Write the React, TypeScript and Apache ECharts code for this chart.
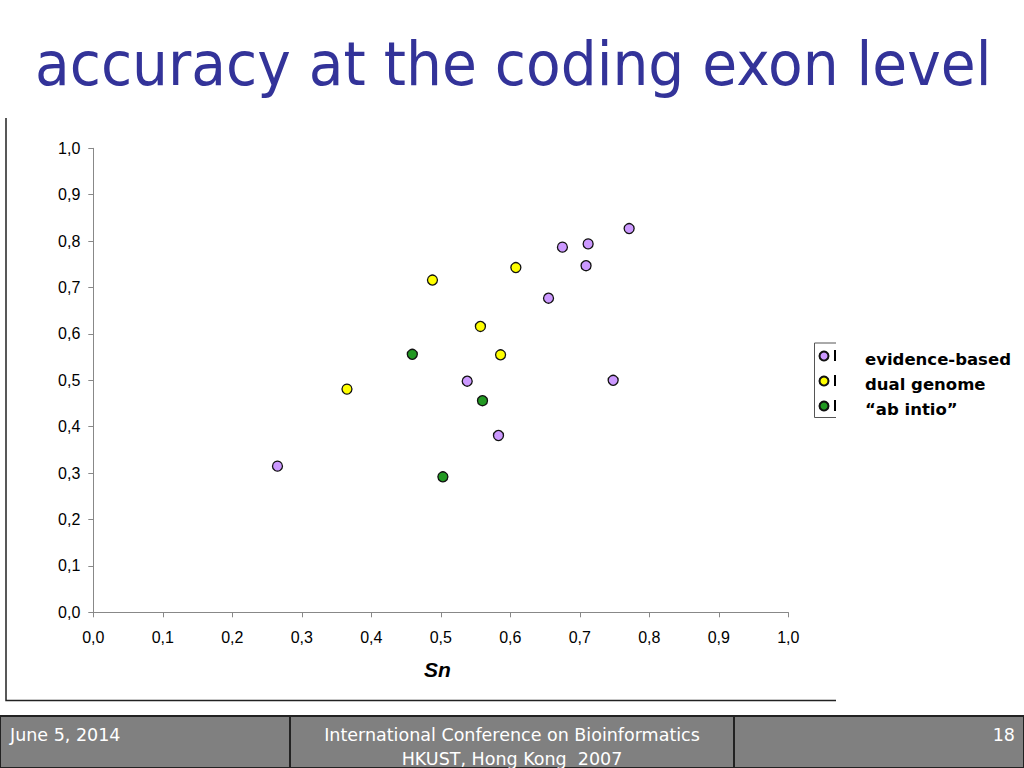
import React, { useEffect, useRef } from "react";
import * as echarts from "echarts";

const seriesNames = ["evidence-based", "dual genome", "\u201cab intio\u201d"];
const seriesColors = ["#CC99FF", "#FFFF00", "#229922"];

const evidenceSn = [0.265, 0.538, 0.583, 0.655, 0.675, 0.712, 0.709, 0.771, 0.748];
const evidenceSp = [0.315, 0.498, 0.381, 0.677, 0.787, 0.794, 0.747, 0.827, 0.5];
const dualSn = [0.365, 0.488, 0.557, 0.586, 0.608];
const dualSp = [0.481, 0.716, 0.616, 0.555, 0.743];
const abInitioSn = [0.459, 0.56, 0.503];
const abInitioSp = [0.556, 0.456, 0.292];

const axisTicks = [0, 0.1, 0.2, 0.3, 0.4, 0.5, 0.6, 0.7, 0.8, 0.9, 1.0];

const titleText = "accuracy at the coding exon level";
const footerLeft = "June 5, 2014";
const footerCenter1 = "International Conference on Bioinformatics";
const footerCenter2 = "HKUST, Hong Kong  2007";
const footerRight = "18";

function pairs(xs: number[], ys: number[]) {
  return xs.map((x, i) => [x, ys[i]]);
}

export default function App() {
  const ref = useRef<HTMLDivElement>(null);
  useEffect(() => {
    if (!ref.current) return;
    const chart = echarts.init(ref.current, null, { renderer: "svg" });
    const fmt = (v: number) => v.toFixed(1).replace(".", ",");
    const axisCommon = {
      type: "value" as const,
      min: axisTicks[0],
      max: axisTicks[axisTicks.length - 1],
      interval: 0.1,
      splitLine: { show: false },
      axisLine: { show: true, lineStyle: { color: "#888888", width: 1 } },
      axisTick: { show: true, length: 5, inside: false, lineStyle: { color: "#888888" } },
      axisLabel: {
        formatter: fmt,
        fontFamily: "Liberation Sans",
        fontSize: 16,
        color: "#000000",
      },
    };
    const data = [pairs(evidenceSn, evidenceSp), pairs(dualSn, dualSp), pairs(abInitioSn, abInitioSp)];
    const footerFont = "17.5px 'DejaVu Sans'";
    const graphics: any[] = [
      {
        type: "text",
        x: 35,
        y: 34,
        scaleX: 0.945,
        style: {
          text: titleText,
          fill: "#333399",
          font: "60px 'DejaVu Sans'",
          verticalAlign: "top",
        },
      },
      {
        type: "polyline",
        shape: { points: [[6, 118], [6, 700.5], [836, 700.5]] },
        style: { stroke: "#222222", lineWidth: 1.5, fill: "none" },
      },
      {
        type: "polyline",
        shape: { points: [[836, 343], [814.5, 343], [814.5, 417.5], [836, 417.5]] },
        style: { stroke: "#555555", lineWidth: 1, fill: "none" },
      },
    ];
    [355, 380, 405].forEach((y, i) => {
      graphics.push({
        type: "rect",
        shape: { x: 834, y: y - 5, width: 2, height: 11 },
        style: { fill: "#000000" },
      });
      graphics.push({
        type: "text",
        x: 865,
        y: y + 4,
        style: {
          text: seriesNames[i],
          fill: "#000000",
          font: "bold 16.5px 'DejaVu Sans'",
          verticalAlign: "middle",
        },
      });
    });
    // footer
    graphics.push({
      type: "rect",
      shape: { x: 0, y: 716, width: 1024, height: 52 },
      style: { fill: "#808080", stroke: "#222222", lineWidth: 2 },
    });
    graphics.push({
      type: "line",
      shape: { x1: 290, y1: 716, x2: 290, y2: 768 },
      style: { stroke: "#222222", lineWidth: 2 },
    });
    graphics.push({
      type: "line",
      shape: { x1: 734, y1: 716, x2: 734, y2: 768 },
      style: { stroke: "#222222", lineWidth: 2 },
    });
    graphics.push({
      type: "text",
      x: 10,
      y: 735,
      style: { text: footerLeft, fill: "#ffffff", font: footerFont, verticalAlign: "middle" },
    });
    graphics.push({
      type: "text",
      x: 512,
      y: 735,
      style: { text: footerCenter1, fill: "#ffffff", font: footerFont, align: "center", verticalAlign: "middle" },
    });
    graphics.push({
      type: "text",
      x: 512,
      y: 759,
      style: { text: footerCenter2, fill: "#ffffff", font: footerFont, align: "center", verticalAlign: "middle" },
    });
    graphics.push({
      type: "text",
      x: 1015,
      y: 735,
      style: { text: footerRight, fill: "#ffffff", font: footerFont, align: "right", verticalAlign: "middle" },
    });

    chart.setOption({
      animation: false,
      backgroundColor: "#ffffff",
      grid: { left: 93.3, right: 1024 - 788.3, top: 148.3, bottom: 768 - 612.3 },
      legend: {
        show: true,
        orient: "vertical",
        left: 818.5,
        top: 350.5,
        padding: 0,
        itemWidth: 9,
        itemHeight: 9,
        itemGap: 14,
        icon: "circle",
        formatter: () => " ",
        textStyle: { fontSize: 9, lineHeight: 9, padding: 0 },
        data: seriesNames,
      },
      xAxis: {
        ...axisCommon,
        axisLabel: { ...axisCommon.axisLabel, margin: 17 },
        name: "Sn",
        nameLocation: "middle",
        nameGap: 47,
        nameTextStyle: {
          fontFamily: "Liberation Sans",
          fontSize: 21,
          fontWeight: "bold",
          fontStyle: "italic",
          color: "#000000",
          padding: [0, 7, 0, 0],
        },
      },
      yAxis: {
        ...axisCommon,
        axisLabel: { ...axisCommon.axisLabel, margin: 13 },
      },
      series: data.map((d, i) => ({
        type: "scatter",
        name: seriesNames[i],
        data: d,
        symbol: "circle",
        symbolSize: 10,
        itemStyle: { color: seriesColors[i], borderColor: "#111111", borderWidth: 1.3, opacity: 1 },
        emphasis: { disabled: true },
      })),
      graphic: graphics,
    });
    return () => chart.dispose();
  }, []);
  return (
    <div
      ref={ref}
      style={{ position: "absolute", left: 0, top: 0, width: 1024, height: 768 }}
    />
  );
}
